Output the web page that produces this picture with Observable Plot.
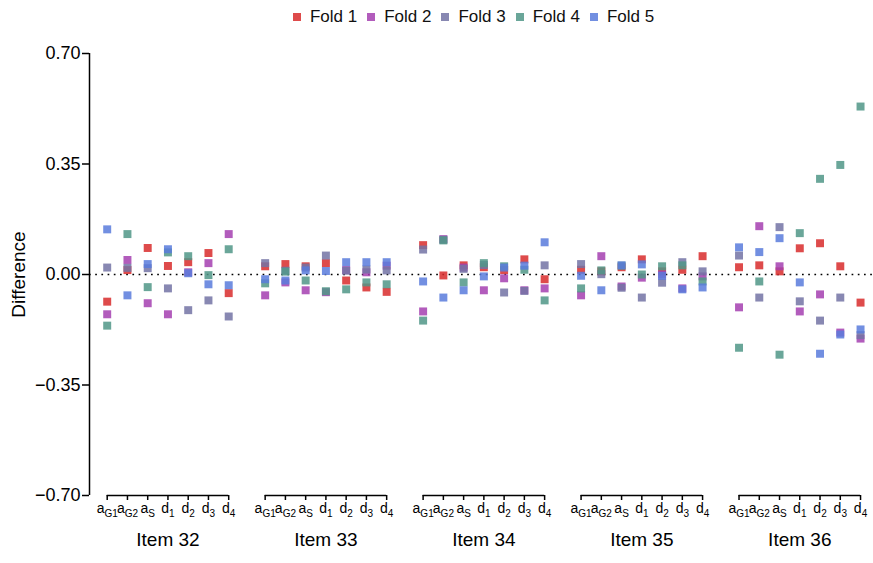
<!DOCTYPE html>
<html>
<head>
<meta charset="utf-8">
<script src="https://cdn.jsdelivr.net/npm/d3@7"></script>
<script src="https://cdn.jsdelivr.net/npm/@observablehq/plot@0.6"></script>
<style>
  html, body { margin: 0; padding: 0; background: #fff; }
  #legend { height: 34px; display: flex; justify-content: center; align-items: center; padding-left: 84px; box-sizing: border-box; }
  #legend > div { font-family: "Liberation Sans", Arial, sans-serif !important; font-size: 17px !important; margin: 0 !important; min-height: 34px !important; color: #111 !important; }
  #legend span { margin-right: 10px !important; }
  #legend span svg { margin-right: 9px !important; opacity: 0.85; }
</style>
</head>
<body>
<div id="legend"></div>
<div id="chart"></div>
<script>
// ---- data ----
const items = ["Item 32", "Item 33", "Item 34", "Item 35", "Item 36"];
const params = ["aG1", "aG2", "aS", "d1", "d2", "d3", "d4"];
const paramMain = ["a", "a", "a", "d", "d", "d", "d"];
const paramSub = ["G1", "G2", "S", "1", "2", "3", "4"];
const folds = ["Fold 1", "Fold 2", "Fold 3", "Fold 4", "Fold 5"];
const foldColors = ["#d82b2b", "#a43fb0", "#7373a4", "#509687", "#597bdc"];
const yTicks = [-0.70, -0.35, 0, 0.35, 0.70];

// values per fold: Item 32 .. Item 36, each aG1, aG2, aS, d1, d2, d3, d4
const fold1 = [
  -0.086, 0.014, 0.084, 0.027, 0.039, 0.068, -0.059,
   0.026, 0.033, 0.026, 0.036, -0.019, -0.041, -0.055,
   0.093, -0.003, 0.029, 0.023, 0.014, 0.048, -0.015,
   0.015, 0.010, 0.023, 0.048, 0.010, 0.015, 0.058,
   0.023, 0.029, 0.010, 0.083, 0.099, 0.026, -0.089
];
const fold2 = [
  -0.126, 0.046, -0.091, -0.126, 0.007, 0.036, 0.128,
  -0.066, -0.025, -0.050, -0.056, 0.014, 0.007, 0.028,
  -0.117, 0.112, 0.022, -0.050, -0.012, -0.050, -0.044,
  -0.066, 0.058, -0.038, -0.010, 0.000, -0.044, -0.006,
  -0.104, 0.153, 0.026, -0.117, -0.063, -0.184, -0.203
];
const fold3 = [
   0.022, 0.021, 0.020, -0.044, -0.113, -0.082, -0.133,
   0.036, 0.012, 0.022, 0.060, 0.012, 0.016, 0.013,
   0.079, 0.110, 0.018, 0.030, -0.057, -0.052, 0.029,
   0.033, 0.001, -0.042, -0.073, -0.026, 0.039, 0.010,
   0.060, -0.073, 0.150, -0.085, -0.146, -0.073, -0.192
];
const fold4 = [
  -0.162, 0.128, -0.040, 0.070, 0.058, -0.002, 0.080,
  -0.028, 0.009, -0.019, -0.053, -0.047, -0.025, -0.031,
  -0.146, 0.108, -0.025, 0.036, 0.026, 0.015, -0.082,
  -0.044, 0.013, 0.028, 0.000, 0.026, 0.029, -0.022,
  -0.232, -0.022, -0.254, 0.131, 0.303, 0.347, 0.532
];
const fold5 = [
   0.143, -0.066, 0.033, 0.080, 0.004, -0.031, -0.034,
  -0.015, -0.019, 0.013, 0.011, 0.039, 0.039, 0.039,
  -0.022, -0.073, -0.050, -0.006, 0.022, 0.028, 0.102,
  -0.004, -0.050, 0.029, 0.032, -0.004, -0.047, -0.041,
   0.086, 0.071, 0.115, -0.025, -0.251, -0.190, -0.174
];
const foldValues = [fold1, fold2, fold3, fold4, fold5];

// ---- layout helpers ----
const itemStep = (params.length - 1) + 1.8;       // gap between item groups
const pos = (i, j) => i * itemStep + j;
const lastPos = pos(items.length - 1, params.length - 1);
const xDomain = [-0.874, lastPos + 0.64];

const rows = folds.flatMap((f, k) => foldValues[k].map((v, idx) => {
  const i = Math.floor(idx / params.length), j = idx % params.length;
  return {fold: f, item: items[i], param: params[j], value: v, pos: pos(i, j)};
}));

const tickPos = [], tickLab = new Map();
items.forEach((_, i) => params.forEach((_, j) => {
  const p = pos(i, j);
  tickPos.push(p);
  tickLab.set(p, paramMain[j] + "|" + paramSub[j]);
}));

// ---- legend ----
const legend = Plot.legend({
  color: {domain: folds, range: foldColors, type: "ordinal"},
  legend: "swatches",
  swatchSize: 8
});
document.getElementById("legend").appendChild(legend);

// ---- chart ----
const chart = Plot.plot({
  width: 873,
  height: 529,
  marginTop: 19,
  marginBottom: 68,
  marginLeft: 89,
  marginRight: 0,
  style: {fontFamily: "'Liberation Sans', Arial, sans-serif", fontSize: "14px", color: "#000", background: "#fff"},
  x: {type: "linear", domain: xDomain},
  y: {domain: [-0.70, 0.70]},
  color: {domain: folds, range: foldColors},
  marks: [
    Plot.ruleY([0], {stroke: "#000", strokeWidth: 1.7, strokeDasharray: "1.7,4.5"}),
    Plot.dot(rows, {x: "pos", y: "value", fill: "fold", symbol: "square", r: 4.5, fillOpacity: 0.85}),
    Plot.ruleX([xDomain[0]], {y1: -0.70, y2: 0.70, stroke: "#000", strokeWidth: 1.5}),
    Plot.axisY(yTicks, {tickSize: 7, tickPadding: 2, tickFormat: d3.format(".2f"), fontSize: 18, strokeWidth: 1.5, label: null}),
    Plot.text(["Difference"], {frameAnchor: "left", textAnchor: "middle", rotate: -90, dx: -70.5, fontSize: 19, fill: "#000"}),
    Plot.ruleY(items, {y: -0.70, x1: (d, i) => pos(i, 0), x2: (d, i) => pos(i, params.length - 1), stroke: "#000", strokeWidth: 1.5}),
    Plot.axisX(tickPos, {anchor: "bottom", tickSize: 5, tickPadding: 3, fontSize: 14, strokeWidth: 1.5, tickFormat: p => tickLab.get(p), label: null}),
    Plot.text(items, {x: (d, i) => pos(i, (params.length - 1) / 2), y: -0.70, dy: 44, fontSize: 19, fill: "#000"})
  ]
});
document.getElementById("chart").appendChild(chart);

// subscripts for parameter labels
chart.querySelectorAll("text").forEach(t => {
  const s = t.textContent;
  if (s.includes("|")) {
    const [main, sub] = s.split("|");
    t.textContent = "";
    const ns = "http://www.w3.org/2000/svg";
    const a = document.createElementNS(ns, "tspan");
    a.textContent = main;
    const b = document.createElementNS(ns, "tspan");
    b.textContent = sub;
    b.setAttribute("font-size", "10");
    b.setAttribute("dy", "3.5");
    t.appendChild(a);
    t.appendChild(b);
  }
});
</script>
</body>
</html>
